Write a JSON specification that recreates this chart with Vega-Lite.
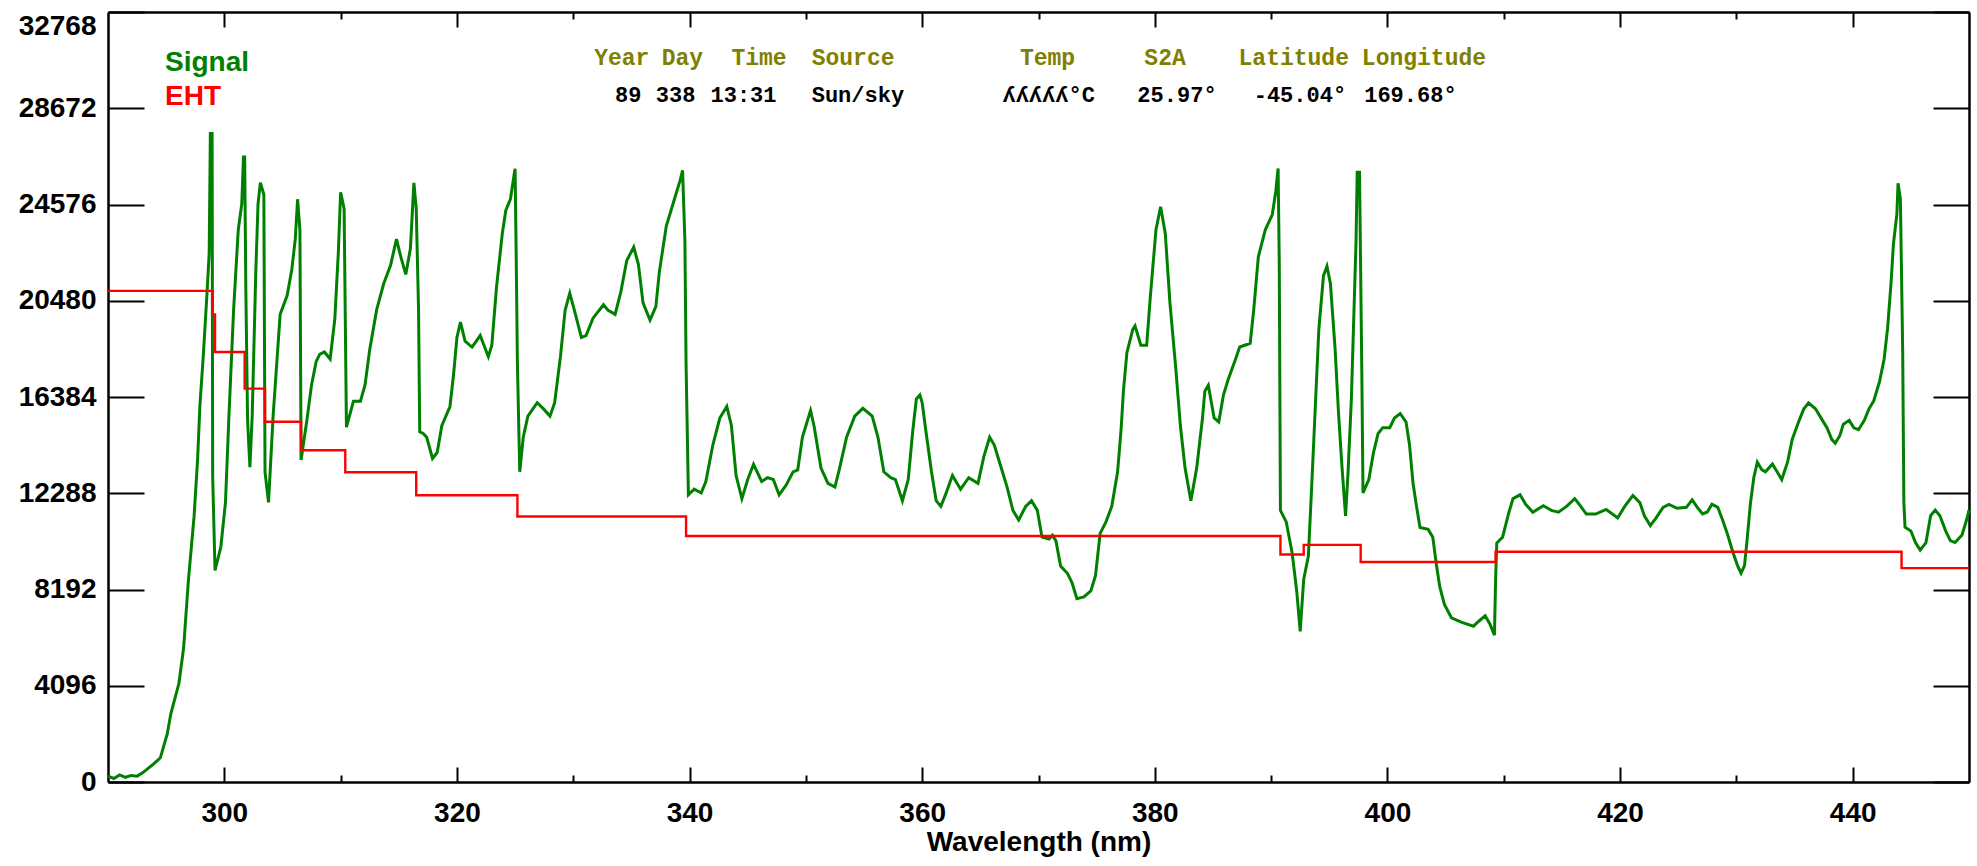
{
  "$schema": "https://vega.github.io/schema/vega-lite/v6.json",
  "description": "Spectrometer scan: Signal and EHT counts against wavelength",
  "autosize": "none",
  "padding": {"left": 108, "top": 12, "right": 8, "bottom": 84},
  "width": 1861,
  "height": 770,
  "background": "white",
  "config": {
    "view": {"stroke": null},
    "axis": {
      "grid": false,
      "domainColor": "black",
      "domainWidth": 2.5,
      "tickColor": "black",
      "tickWidth": 2,
      "labelFont": "Liberation Sans",
      "labelFontWeight": "bold",
      "labelFontSize": 28,
      "labelColor": "black",
      "titleFont": "Liberation Sans",
      "titleFontWeight": "bold",
      "titleFontSize": 28,
      "titleColor": "black"
    }
  },
  "datasets": {
    "signal": [
      {"wl": 290.0, "counts": 250}, {"wl": 290.5, "counts": 150}, {"wl": 291.0, "counts": 300},
      {"wl": 291.5, "counts": 200}, {"wl": 292.0, "counts": 280}, {"wl": 292.5, "counts": 250},
      {"wl": 293.0, "counts": 400}, {"wl": 293.4, "counts": 560}, {"wl": 294.0, "counts": 800},
      {"wl": 294.5, "counts": 1030}, {"wl": 295.1, "counts": 2060}, {"wl": 295.4, "counts": 2900},
      {"wl": 296.1, "counts": 4200}, {"wl": 296.5, "counts": 5700}, {"wl": 296.9, "counts": 8500},
      {"wl": 297.4, "counts": 11300}, {"wl": 297.7, "counts": 13700}, {"wl": 297.9, "counts": 16000},
      {"wl": 298.2, "counts": 18200}, {"wl": 298.5, "counts": 20700}, {"wl": 298.7, "counts": 22500},
      {"wl": 298.8, "counts": 27600}, {"wl": 298.95, "counts": 27600}, {"wl": 299.0, "counts": 13000},
      {"wl": 299.2, "counts": 9000}, {"wl": 299.7, "counts": 10000}, {"wl": 300.1, "counts": 11900},
      {"wl": 300.4, "counts": 15600}, {"wl": 300.8, "counts": 20100}, {"wl": 301.2, "counts": 23500},
      {"wl": 301.5, "counts": 24600}, {"wl": 301.65, "counts": 26600}, {"wl": 301.75, "counts": 26600},
      {"wl": 301.85, "counts": 21000}, {"wl": 302.0, "counts": 15400}, {"wl": 302.2, "counts": 13400},
      {"wl": 302.4, "counts": 15600}, {"wl": 302.7, "counts": 21600}, {"wl": 302.9, "counts": 24600},
      {"wl": 303.1, "counts": 25500}, {"wl": 303.4, "counts": 25000}, {"wl": 303.5, "counts": 13200},
      {"wl": 303.8, "counts": 11900}, {"wl": 304.2, "counts": 15600}, {"wl": 304.8, "counts": 19900},
      {"wl": 305.4, "counts": 20700}, {"wl": 305.8, "counts": 21800}, {"wl": 306.1, "counts": 23100},
      {"wl": 306.3, "counts": 24800}, {"wl": 306.5, "counts": 23500}, {"wl": 306.6, "counts": 13700},
      {"wl": 307.1, "counts": 15400}, {"wl": 307.5, "counts": 16900}, {"wl": 307.9, "counts": 17900},
      {"wl": 308.2, "counts": 18200}, {"wl": 308.6, "counts": 18300}, {"wl": 309.1, "counts": 18000},
      {"wl": 309.5, "counts": 19700}, {"wl": 309.8, "counts": 22500}, {"wl": 310.0, "counts": 25100},
      {"wl": 310.3, "counts": 24400}, {"wl": 310.5, "counts": 15100}, {"wl": 311.1, "counts": 16200},
      {"wl": 311.7, "counts": 16200}, {"wl": 312.1, "counts": 16900}, {"wl": 312.5, "counts": 18400},
      {"wl": 313.1, "counts": 20100}, {"wl": 313.7, "counts": 21200}, {"wl": 314.3, "counts": 22000},
      {"wl": 314.8, "counts": 23100}, {"wl": 315.2, "counts": 22300}, {"wl": 315.6, "counts": 21600},
      {"wl": 316.0, "counts": 22700}, {"wl": 316.3, "counts": 25500}, {"wl": 316.5, "counts": 24400},
      {"wl": 316.7, "counts": 20100}, {"wl": 316.8, "counts": 14900}, {"wl": 317.1, "counts": 14830},
      {"wl": 317.4, "counts": 14670}, {"wl": 317.9, "counts": 13770}, {"wl": 318.3, "counts": 14020},
      {"wl": 318.7, "counts": 15160}, {"wl": 319.4, "counts": 15980}, {"wl": 319.7, "counts": 17290},
      {"wl": 320.0, "counts": 18920}, {"wl": 320.3, "counts": 19570}, {"wl": 320.7, "counts": 18760},
      {"wl": 321.3, "counts": 18510}, {"wl": 322.0, "counts": 19000}, {"wl": 322.7, "counts": 18100},
      {"wl": 323.0, "counts": 18590}, {"wl": 323.4, "counts": 21050}, {"wl": 323.9, "counts": 23340},
      {"wl": 324.2, "counts": 24320}, {"wl": 324.6, "counts": 24810}, {"wl": 324.9, "counts": 25790},
      {"wl": 325.0, "counts": 26100}, {"wl": 325.1, "counts": 22190}, {"wl": 325.2, "counts": 17780},
      {"wl": 325.4, "counts": 13200}, {"wl": 325.7, "counts": 14670}, {"wl": 326.1, "counts": 15570},
      {"wl": 326.9, "counts": 16140}, {"wl": 327.4, "counts": 15900}, {"wl": 328.0, "counts": 15570},
      {"wl": 328.4, "counts": 16140}, {"wl": 328.9, "counts": 18100}, {"wl": 329.3, "counts": 20070},
      {"wl": 329.7, "counts": 20800}, {"wl": 330.1, "counts": 20070}, {"wl": 330.7, "counts": 18920},
      {"wl": 331.1, "counts": 19000}, {"wl": 331.7, "counts": 19740}, {"wl": 332.6, "counts": 20310},
      {"wl": 333.0, "counts": 20070}, {"wl": 333.6, "counts": 19900}, {"wl": 334.1, "counts": 20880},
      {"wl": 334.6, "counts": 22190}, {"wl": 335.2, "counts": 22760}, {"wl": 335.6, "counts": 22030},
      {"wl": 336.0, "counts": 20390}, {"wl": 336.6, "counts": 19660}, {"wl": 337.1, "counts": 20230},
      {"wl": 337.4, "counts": 21700}, {"wl": 338.0, "counts": 23660}, {"wl": 338.6, "counts": 24640},
      {"wl": 339.2, "counts": 25620}, {"wl": 339.4, "counts": 26030}, {"wl": 339.6, "counts": 23000},
      {"wl": 339.7, "counts": 17780}, {"wl": 339.9, "counts": 12220}, {"wl": 340.4, "counts": 12460},
      {"wl": 341.0, "counts": 12300}, {"wl": 341.4, "counts": 12790}, {"wl": 342.0, "counts": 14340},
      {"wl": 342.6, "counts": 15490}, {"wl": 343.2, "counts": 15980}, {"wl": 343.6, "counts": 15160},
      {"wl": 344.0, "counts": 13040}, {"wl": 344.5, "counts": 12060}, {"wl": 345.0, "counts": 12870},
      {"wl": 345.5, "counts": 13520}, {"wl": 346.2, "counts": 12790}, {"wl": 346.7, "counts": 12950},
      {"wl": 347.2, "counts": 12870}, {"wl": 347.7, "counts": 12220}, {"wl": 348.3, "counts": 12630},
      {"wl": 348.9, "counts": 13200}, {"wl": 349.3, "counts": 13280}, {"wl": 349.7, "counts": 14670},
      {"wl": 350.4, "counts": 15810}, {"wl": 350.7, "counts": 15160}, {"wl": 351.3, "counts": 13360},
      {"wl": 351.9, "counts": 12710}, {"wl": 352.5, "counts": 12550}, {"wl": 352.9, "counts": 13360},
      {"wl": 353.5, "counts": 14670}, {"wl": 354.2, "counts": 15570}, {"wl": 354.9, "counts": 15900},
      {"wl": 355.7, "counts": 15570}, {"wl": 356.2, "counts": 14670}, {"wl": 356.7, "counts": 13200},
      {"wl": 357.3, "counts": 12950}, {"wl": 357.7, "counts": 12870}, {"wl": 358.3, "counts": 11970},
      {"wl": 358.8, "counts": 12870}, {"wl": 359.2, "counts": 15000}, {"wl": 359.5, "counts": 16300},
      {"wl": 359.8, "counts": 16470}, {"wl": 360.0, "counts": 16140}, {"wl": 360.3, "counts": 15000},
      {"wl": 360.8, "counts": 13200}, {"wl": 361.2, "counts": 11970}, {"wl": 361.6, "counts": 11730},
      {"wl": 362.0, "counts": 12220}, {"wl": 362.6, "counts": 13040}, {"wl": 363.3, "counts": 12460},
      {"wl": 364.0, "counts": 12950}, {"wl": 364.8, "counts": 12710}, {"wl": 365.3, "counts": 13850},
      {"wl": 365.8, "counts": 14670}, {"wl": 366.2, "counts": 14340}, {"wl": 366.8, "counts": 13360},
      {"wl": 367.3, "counts": 12550}, {"wl": 367.8, "counts": 11560}, {"wl": 368.3, "counts": 11150},
      {"wl": 368.9, "counts": 11730}, {"wl": 369.4, "counts": 11970}, {"wl": 369.9, "counts": 11560},
      {"wl": 370.3, "counts": 10420}, {"wl": 370.9, "counts": 10340}, {"wl": 371.2, "counts": 10500},
      {"wl": 371.5, "counts": 10260}, {"wl": 371.9, "counts": 9190}, {"wl": 372.5, "counts": 8870},
      {"wl": 372.9, "counts": 8460}, {"wl": 373.3, "counts": 7800}, {"wl": 373.9, "counts": 7880},
      {"wl": 374.5, "counts": 8130}, {"wl": 374.9, "counts": 8780}, {"wl": 375.3, "counts": 10580},
      {"wl": 375.8, "counts": 11070}, {"wl": 376.3, "counts": 11730}, {"wl": 376.8, "counts": 13200},
      {"wl": 377.1, "counts": 15000}, {"wl": 377.3, "counts": 16630}, {"wl": 377.6, "counts": 18270},
      {"wl": 378.1, "counts": 19250}, {"wl": 378.3, "counts": 19410}, {"wl": 378.8, "counts": 18590},
      {"wl": 379.3, "counts": 18590}, {"wl": 379.6, "counts": 20560}, {"wl": 380.1, "counts": 23500},
      {"wl": 380.5, "counts": 24480}, {"wl": 380.9, "counts": 23340}, {"wl": 381.3, "counts": 20390},
      {"wl": 381.8, "counts": 17610}, {"wl": 382.2, "counts": 15160}, {"wl": 382.6, "counts": 13360},
      {"wl": 383.1, "counts": 11970}, {"wl": 383.6, "counts": 13360}, {"wl": 384.1, "counts": 15490},
      {"wl": 384.3, "counts": 16630}, {"wl": 384.6, "counts": 16880}, {"wl": 385.1, "counts": 15490},
      {"wl": 385.5, "counts": 15320}, {"wl": 385.9, "counts": 16470}, {"wl": 386.3, "counts": 17120},
      {"wl": 386.9, "counts": 17940}, {"wl": 387.3, "counts": 18510}, {"wl": 388.2, "counts": 18670},
      {"wl": 388.5, "counts": 20070}, {"wl": 388.9, "counts": 22350}, {"wl": 389.5, "counts": 23500},
      {"wl": 390.1, "counts": 24150}, {"wl": 390.4, "counts": 25130}, {"wl": 390.6, "counts": 26110},
      {"wl": 390.7, "counts": 22030}, {"wl": 390.8, "counts": 11560}, {"wl": 391.3, "counts": 11070},
      {"wl": 391.8, "counts": 9770}, {"wl": 392.2, "counts": 8130}, {"wl": 392.5, "counts": 6410},
      {"wl": 392.8, "counts": 8620}, {"wl": 393.2, "counts": 9600}, {"wl": 393.5, "counts": 12710},
      {"wl": 393.8, "counts": 15980}, {"wl": 394.1, "counts": 19250}, {"wl": 394.5, "counts": 21540},
      {"wl": 394.8, "counts": 21950}, {"wl": 395.1, "counts": 21210}, {"wl": 395.5, "counts": 18430},
      {"wl": 395.8, "counts": 15650}, {"wl": 396.1, "counts": 13360}, {"wl": 396.4, "counts": 11320},
      {"wl": 396.6, "counts": 13040}, {"wl": 396.9, "counts": 16300}, {"wl": 397.3, "counts": 23010},
      {"wl": 397.4, "counts": 25950}, {"wl": 397.6, "counts": 25950}, {"wl": 397.8, "counts": 17290},
      {"wl": 397.9, "counts": 12300}, {"wl": 398.4, "counts": 12870}, {"wl": 398.8, "counts": 14020},
      {"wl": 399.2, "counts": 14830}, {"wl": 399.6, "counts": 15080}, {"wl": 400.2, "counts": 15080},
      {"wl": 400.6, "counts": 15490}, {"wl": 401.1, "counts": 15680}, {"wl": 401.6, "counts": 15320},
      {"wl": 401.9, "counts": 14340}, {"wl": 402.2, "counts": 12710}, {"wl": 402.5, "counts": 11730},
      {"wl": 402.8, "counts": 10830}, {"wl": 403.5, "counts": 10750}, {"wl": 403.9, "counts": 10420},
      {"wl": 404.2, "counts": 9280}, {"wl": 404.5, "counts": 8300}, {"wl": 404.9, "counts": 7560},
      {"wl": 405.5, "counts": 6990}, {"wl": 406.4, "counts": 6790}, {"wl": 407.4, "counts": 6630},
      {"wl": 407.8, "counts": 6820}, {"wl": 408.4, "counts": 7070}, {"wl": 408.8, "counts": 6740},
      {"wl": 409.2, "counts": 6250}, {"wl": 409.3, "counts": 8620}, {"wl": 409.4, "counts": 10170},
      {"wl": 409.9, "counts": 10420}, {"wl": 410.4, "counts": 11400}, {"wl": 410.8, "counts": 12060},
      {"wl": 411.4, "counts": 12220}, {"wl": 411.9, "counts": 11810}, {"wl": 412.5, "counts": 11480},
      {"wl": 413.4, "counts": 11760}, {"wl": 414.1, "counts": 11560}, {"wl": 414.7, "counts": 11480},
      {"wl": 415.4, "counts": 11730}, {"wl": 416.1, "counts": 12060}, {"wl": 416.5, "counts": 11810},
      {"wl": 417.1, "counts": 11400}, {"wl": 417.9, "counts": 11400}, {"wl": 418.8, "counts": 11600},
      {"wl": 419.8, "counts": 11240}, {"wl": 420.4, "counts": 11730}, {"wl": 421.1, "counts": 12190},
      {"wl": 421.7, "counts": 11890}, {"wl": 422.1, "counts": 11320}, {"wl": 422.6, "counts": 10910},
      {"wl": 423.1, "counts": 11240}, {"wl": 423.7, "counts": 11690}, {"wl": 424.2, "counts": 11810},
      {"wl": 424.9, "counts": 11650}, {"wl": 425.7, "counts": 11690}, {"wl": 426.2, "counts": 12010},
      {"wl": 426.7, "counts": 11650}, {"wl": 427.1, "counts": 11410}, {"wl": 427.5, "counts": 11490},
      {"wl": 427.9, "counts": 11820}, {"wl": 428.4, "counts": 11690}, {"wl": 428.8, "counts": 11170},
      {"wl": 429.2, "counts": 10600}, {"wl": 429.7, "counts": 9780}, {"wl": 430.1, "counts": 9210},
      {"wl": 430.4, "counts": 8890}, {"wl": 430.7, "counts": 9210}, {"wl": 430.9, "counts": 10190},
      {"wl": 431.2, "counts": 11820}, {"wl": 431.5, "counts": 12960}, {"wl": 431.8, "counts": 13610},
      {"wl": 432.2, "counts": 13280}, {"wl": 432.5, "counts": 13200}, {"wl": 433.1, "counts": 13530},
      {"wl": 433.5, "counts": 13200}, {"wl": 433.9, "counts": 12870}, {"wl": 434.4, "counts": 13610},
      {"wl": 434.8, "counts": 14580}, {"wl": 435.4, "counts": 15390}, {"wl": 435.8, "counts": 15880},
      {"wl": 436.2, "counts": 16130}, {"wl": 436.8, "counts": 15880}, {"wl": 437.4, "counts": 15390},
      {"wl": 437.8, "counts": 15070}, {"wl": 438.2, "counts": 14580}, {"wl": 438.5, "counts": 14420},
      {"wl": 438.9, "counts": 14750}, {"wl": 439.2, "counts": 15230}, {"wl": 439.7, "counts": 15390},
      {"wl": 440.1, "counts": 15070}, {"wl": 440.5, "counts": 14990}, {"wl": 441.0, "counts": 15390},
      {"wl": 441.4, "counts": 15880}, {"wl": 441.8, "counts": 16210}, {"wl": 442.3, "counts": 17020},
      {"wl": 442.7, "counts": 17990}, {"wl": 443.0, "counts": 19300}, {"wl": 443.3, "counts": 21250},
      {"wl": 443.5, "counts": 22880}, {"wl": 443.8, "counts": 24180}, {"wl": 443.9, "counts": 25480},
      {"wl": 444.1, "counts": 24830}, {"wl": 444.3, "counts": 18320}, {"wl": 444.4, "counts": 11900},
      {"wl": 444.5, "counts": 10840}, {"wl": 445.0, "counts": 10680}, {"wl": 445.4, "counts": 10190},
      {"wl": 445.8, "counts": 9870}, {"wl": 446.3, "counts": 10190}, {"wl": 446.7, "counts": 11330},
      {"wl": 447.1, "counts": 11570}, {"wl": 447.5, "counts": 11330}, {"wl": 448.0, "counts": 10680},
      {"wl": 448.4, "counts": 10270}, {"wl": 448.8, "counts": 10190}, {"wl": 449.4, "counts": 10510},
      {"wl": 449.8, "counts": 11170}, {"wl": 450.0, "counts": 11570}
    ],
    "eht": [
      {"wl": 290.0, "counts": 20900}, {"wl": 299.0, "counts": 19900}, {"wl": 299.2, "counts": 18300},
      {"wl": 301.75, "counts": 16740}, {"wl": 303.5, "counts": 15330}, {"wl": 306.6, "counts": 14120},
      {"wl": 310.4, "counts": 13180}, {"wl": 316.5, "counts": 12200}, {"wl": 325.2, "counts": 11300},
      {"wl": 339.7, "counts": 10470}, {"wl": 390.8, "counts": 9680}, {"wl": 392.8, "counts": 10090},
      {"wl": 397.7, "counts": 9360}, {"wl": 409.3, "counts": 9800}, {"wl": 444.2, "counts": 9100},
      {"wl": 450.0, "counts": 9100}
    ],
    "heads": [
      {"wl": 331.8, "counts": 30515, "text": "Year"},
      {"wl": 337.6, "counts": 30515, "text": "Day"},
      {"wl": 343.6, "counts": 30515, "text": "Time"},
      {"wl": 350.5, "counts": 30515, "text": "Source"},
      {"wl": 368.4, "counts": 30515, "text": "Temp"},
      {"wl": 379.1, "counts": 30515, "text": "S2A"},
      {"wl": 387.2, "counts": 30515, "text": "Latitude"},
      {"wl": 397.8, "counts": 30515, "text": "Longitude"}
    ],
    "vals": [
      {"wl": 333.6, "counts": 28940, "text": "89"},
      {"wl": 337.1, "counts": 28940, "text": "338"},
      {"wl": 341.8, "counts": 28940, "text": "13:31"},
      {"wl": 350.5, "counts": 28940, "text": "Sun/sky"},
      {"wl": 366.9, "counts": 28940, "text": "ʎʎʎʎʎ°C"},
      {"wl": 378.5, "counts": 28940, "text": "25.97°"},
      {"wl": 388.5, "counts": 28940, "text": "-45.04°"},
      {"wl": 398.0, "counts": 28940, "text": "169.68°"}
    ],
    "keys": [
      {"wl": 294.9, "counts": 30260, "text": "Signal"},
      {"wl": 294.9, "counts": 28830, "text": "EHT"}
    ]
  },
  "resolve": {"axis": {"x": "independent", "y": "independent"}},
  "layer": [
    {
      "data": {"name": "signal"},
      "mark": {"type": "line", "color": "#008000", "strokeWidth": 3},
      "encoding": {
        "x": {
          "field": "wl", "type": "quantitative",
          "scale": {"domain": [290, 450], "nice": false, "zero": false},
          "axis": {
            "orient": "bottom", "values": [300, 320, 340, 360, 380, 400, 420, 440],
            "tickSize": -15, "labelPadding": 32, "title": "Wavelength (nm)", "titlePadding": 1
          }
        },
        "y": {
          "field": "counts", "type": "quantitative",
          "scale": {"domain": [0, 32768], "nice": false},
          "axis": {
            "orient": "left", "values": [0, 4096, 8192, 12288, 16384, 20480, 24576, 28672, 32768],
            "format": "d",
            "labelBaseline": {"condition": {"test": "datum.value == 32768", "value": "top"}, "value": "middle"},
            "tickSize": -36, "labelPadding": 48, "title": null, "labelOverlap": false
          }
        }
      }
    },
    {
      "data": {"name": "eht"},
      "mark": {"type": "line", "color": "#ff0000", "strokeWidth": 2.4, "interpolate": "step-after"},
      "encoding": {
        "x": {
          "field": "wl", "type": "quantitative",
          "scale": {"domain": [290, 450], "nice": false, "zero": false},
          "axis": {"orient": "top", "values": [300, 320, 340, 360, 380, 400, 420, 440], "tickSize": -15, "labels": false, "title": null}
        },
        "y": {
          "field": "counts", "type": "quantitative",
          "scale": {"domain": [0, 32768], "nice": false},
          "axis": {
            "orient": "right", "values": [0, 4096, 8192, 12288, 16384, 20480, 24576, 28672, 32768],
            "tickSize": -36, "labels": false, "title": null
          }
        }
      }
    },
    {
      "data": {"name": "heads"},
      "mark": {"type": "text", "align": "left", "baseline": "alphabetic", "font": "Liberation Mono", "fontWeight": "bold", "fontSize": 23, "color": "#808000"},
      "encoding": {
        "x": {
          "field": "wl", "type": "quantitative",
          "scale": {"domain": [290, 450], "nice": false, "zero": false},
          "axis": {"orient": "bottom", "values": [310, 330, 350, 370, 390, 410, 430], "tickSize": -7, "labels": false, "domain": false, "title": null}
        },
        "y": {"field": "counts", "type": "quantitative", "scale": {"domain": [0, 32768], "nice": false}, "axis": null},
        "text": {"field": "text"}
      }
    },
    {
      "data": {"name": "vals"},
      "mark": {"type": "text", "align": "left", "baseline": "alphabetic", "font": "Liberation Mono", "fontWeight": "bold", "fontSize": 22, "color": "black"},
      "encoding": {
        "x": {
          "field": "wl", "type": "quantitative",
          "scale": {"domain": [290, 450], "nice": false, "zero": false},
          "axis": {"orient": "top", "values": [310, 330, 350, 370, 390, 410, 430], "tickSize": -7, "labels": false, "domain": false, "title": null}
        },
        "y": {"field": "counts", "type": "quantitative", "scale": {"domain": [0, 32768], "nice": false}, "axis": null},
        "text": {"field": "text"}
      }
    },
    {
      "data": {"name": "keys"},
      "mark": {"type": "text", "align": "left", "baseline": "alphabetic", "font": "Liberation Sans", "fontWeight": "bold", "fontSize": 28},
      "encoding": {
        "x": {"field": "wl", "type": "quantitative", "scale": {"domain": [290, 450], "nice": false, "zero": false}, "axis": null},
        "y": {"field": "counts", "type": "quantitative", "scale": {"domain": [0, 32768], "nice": false}, "axis": null},
        "text": {"field": "text"},
        "color": {
          "field": "text", "type": "nominal",
          "scale": {"domain": ["Signal", "EHT"], "range": ["#008000", "#ff0000"]},
          "legend": null
        }
      }
    }
  ]
}
